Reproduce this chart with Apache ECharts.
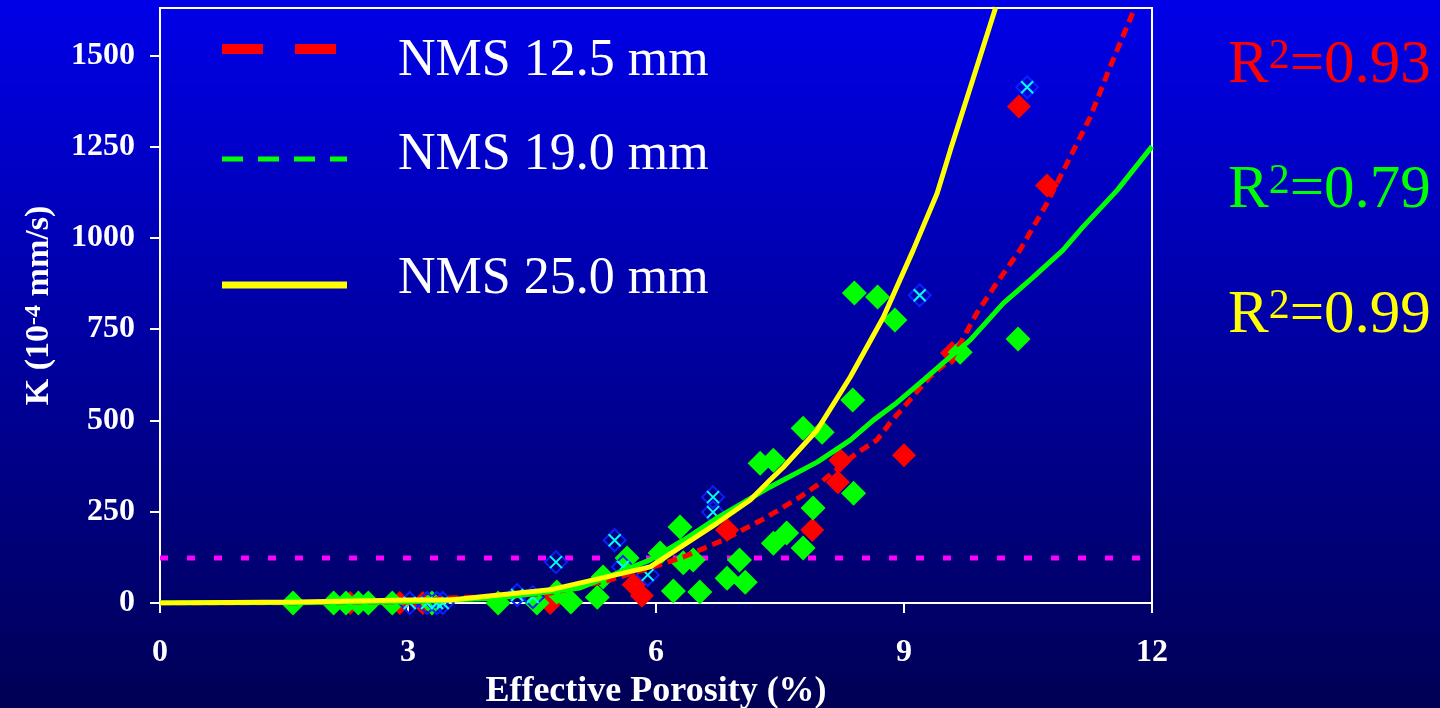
<!DOCTYPE html>
<html>
<head>
<meta charset="utf-8">
<title>K vs Effective Porosity</title>
<script src="https://cdn.jsdelivr.net/npm/echarts@6/dist/echarts.min.js"></script>
<style>
  html, body { margin: 0; padding: 0; }
  #chart { width: 1440px; height: 708px; }
</style>
</head>
<body>
<div id="chart"></div>
<script>
const serif = "'Liberation Serif', 'DejaVu Serif', serif";

// axis ticks
const xTicks = [0, 3, 6, 9, 12];
const yTicks = [0, 250, 500, 750, 1000, 1250, 1500];

// measured points - NMS 12.5 mm
const red125X = [2.3, 2.9, 3.18, 4.72, 5.73, 5.83, 6.86, 7.89, 8.2, 8.23, 9.0, 9.58, 10.39, 10.73];
const red125Y = [0, 0, 0, 0, 50, 20, 200, 200, 331, 391, 405, 685, 1360, 1144];

// measured points - NMS 19.0 mm
const green190X = [1.61, 2.10, 2.25, 2.40, 2.52, 2.81, 3.29, 4.09, 4.56, 4.80, 4.97, 5.29, 5.36, 5.65, 6.05, 6.29,
  6.21, 6.53, 6.45, 6.33, 6.86, 7.08, 7.01, 7.26, 7.42, 7.42, 7.58, 7.78, 7.90, 7.78, 8.01, 8.38,
  8.39, 8.40, 8.68, 8.89, 9.68, 10.38];
const green190Y = [0, 0, 0, 0, 0, 0, 0, 0, 0, 30, 3, 16, 71, 123, 137, 208,
  33, 30, 118, 110, 68, 57, 118, 383, 391, 164, 192, 151, 260, 479, 468, 556,
  301, 849, 838, 775, 687, 723];

// measured points - NMS 25.0 mm
const blue250X = [3.02, 3.23, 3.35, 3.42, 4.32, 4.51, 4.79, 5.50, 5.60, 5.90, 6.69, 6.69, 9.19, 10.49];
const blue250Y = [0, 0, 0, 0, 22, 16, 112, 172, 99, 77, 290, 249, 843, 1413];

// fitted curves
const fitRedX = [0, 1.69, 3.02, 3.51, 3.91, 4.72, 5.44, 5.93, 6.33, 6.81, 7.34, 7.74, 7.95, 8.43, 8.67, 8.83,
  9.07, 9.31, 9.59, 9.88, 10.12, 10.40, 10.73, 10.97, 11.25, 11.49, 11.79];
const fitRedY = [0, 0, 3, 14, 16, 27, 63, 96, 126, 172, 235, 290, 323, 411, 446, 493,
  556, 619, 673, 794, 876, 966, 1095, 1204, 1330, 1467, 1629];

const fitGreenX = [0, 2.90, 4.11, 5.08, 5.93, 6.33, 6.74, 7.38, 7.95, 8.35, 8.63, 8.91, 9.23, 9.47, 9.80, 10.20,
  10.56, 10.92, 11.16, 11.58, 12.0];
const fitGreenY = [0, 3, 14, 41, 118, 172, 233, 318, 386, 446, 501, 548, 610, 657, 720, 821,
  892, 966, 1029, 1131, 1251];

const fitYellowX = [0, 1.69, 3.02, 3.51, 4.72, 5.93, 6.74, 7.14, 7.38, 7.54, 7.95, 8.35, 8.75, 9.11, 9.40, 9.56, 9.83, 10.11];
const fitYellowY = [0, 3, 8, 8, 36, 99, 219, 282, 337, 372, 474, 619, 783, 966, 1122, 1240, 1432, 1632];

// dotted reference level
const limitX = [0, 12];
const limitY = [123, 123];

const toPairs = (xs, ys) => xs.map((x, i) => [x, ys[i]]);

const myChart = echarts.init(document.getElementById("chart"));

const fitLine = (data, color, width, type, z) => ({
  type: "line",
  data: data,
  symbol: "none",
  z: z,
  lineStyle: { color: color, width: width, type: type },
});

const r2Text = (value, color, y) => ({
  type: "text",
  x: 1228,
  y: y,
  style: {
    text: "{b|R}{s|2}{b|=" + value + "}",
    textVerticalAlign: "middle",
    rich: {
      b: { fontSize: 61, fontFamily: serif, fill: color },
      s: { fontSize: 42, fontFamily: serif, fill: color, verticalAlign: "top" },
    },
  },
});

const legendText = (label, y) => ({
  type: "text",
  x: 398,
  y: y,
  style: {
    text: label,
    fill: "#fff",
    font: "52px " + serif,
    textVerticalAlign: "middle",
  },
});

const options = {
  animation: false,
  backgroundColor: new echarts.graphic.LinearGradient(0, 0, 0, 1, [
    { offset: 0, color: "#0000e8" },
    { offset: 1, color: "#000055" },
  ]),
  grid: {
    left: 160,
    right: 288,
    top: 8,
    bottom: 105,
    show: true,
    borderColor: "#fff",
    borderWidth: 2,
    outerBoundsMode: "none",
  },
  xAxis: {
    type: "value",
    min: 0,
    max: 12,
    interval: 3,
    name: "Effective Porosity (%)",
    nameLocation: "middle",
    nameGap: 66,
    nameTextStyle: { color: "#fff", fontFamily: serif, fontWeight: "bold", fontSize: 36 },
    axisLine: { lineStyle: { color: "#fff", width: 2 } },
    axisTick: { show: true, length: 10, lineStyle: { color: "#fff", width: 2 } },
    axisLabel: { color: "#fff", fontFamily: serif, fontWeight: "bold", fontSize: 32, margin: 34 },
    splitLine: { show: false },
  },
  yAxis: {
    type: "value",
    min: 0,
    max: 1630,
    name: "K (10{sup|-4} mm/s)",
    nameLocation: "middle",
    nameGap: 104,
    nameTextStyle: {
      color: "#fff",
      fontFamily: serif,
      fontWeight: "bold",
      fontSize: 34,
      rich: {
        sup: { color: "#fff", fontFamily: serif, fontWeight: "bold", fontSize: 24, verticalAlign: "top" },
      },
    },
    axisLine: { lineStyle: { color: "#fff", width: 2 } },
    axisTick: { show: true, length: 10, customValues: yTicks, lineStyle: { color: "#fff", width: 2 } },
    axisLabel: {
      color: "#fff",
      fontFamily: serif,
      fontWeight: "bold",
      fontSize: 32,
      margin: 25,
      customValues: yTicks,
      formatter: (v) => String(v),
    },
    splitLine: { show: false },
  },
  graphic: [
    // legend samples
    { type: "line", shape: { x1: 222, y1: 49, x2: 336, y2: 49 }, style: { stroke: "#ff0000", lineWidth: 10, lineDash: [41, 32] } },
    { type: "line", shape: { x1: 222, y1: 159, x2: 347, y2: 159 }, style: { stroke: "#00ff00", lineWidth: 5, lineDash: [21, 15] } },
    { type: "line", shape: { x1: 222, y1: 285, x2: 347, y2: 285 }, style: { stroke: "#ffff00", lineWidth: 7 } },
    legendText("NMS 12.5 mm", 61),
    legendText("NMS 19.0 mm", 155),
    legendText("NMS 25.0 mm", 279),
    r2Text("0.93", "#ff0000", 66),
    r2Text("0.79", "#00ff00", 191),
    r2Text("0.99", "#ffff00", 316),
  ],
  series: [
    fitLine(toPairs(limitX, limitY), "#ff00ff", 5, [8, 19], 1),
    {
      type: "scatter",
      data: toPairs(red125X, red125Y),
      symbol: "diamond",
      symbolSize: 24,
      z: 2,
      itemStyle: { color: "#ff0000", opacity: 1 },
    },
    {
      type: "scatter",
      data: toPairs(green190X, green190Y),
      symbol: "diamond",
      symbolSize: 25,
      z: 3,
      itemStyle: { color: "#00ff00", opacity: 1 },
    },
    {
      type: "scatter",
      data: toPairs(blue250X, blue250Y),
      symbol: "diamond",
      symbolSize: 22,
      z: 4,
      itemStyle: { color: "transparent", borderColor: "#0a1eff", borderWidth: 2, opacity: 1 },
    },
    {
      type: "scatter",
      data: toPairs(blue250X, blue250Y),
      symbol: "path://M0,0L10,10M10,0L0,10",
      symbolSize: 12,
      z: 5,
      itemStyle: { color: "transparent", borderColor: "#00ffff", borderWidth: 2, opacity: 1 },
    },
    fitLine(toPairs(fitRedX, fitRedY), "#ff0000", 5, [10, 6], 6),
    fitLine(toPairs(fitGreenX, fitGreenY), "#00ff00", 5, "solid", 7),
    fitLine(toPairs(fitYellowX, fitYellowY), "#ffff00", 5, "solid", 8),
  ],
};

myChart.setOption(options);
</script>
</body>
</html>
